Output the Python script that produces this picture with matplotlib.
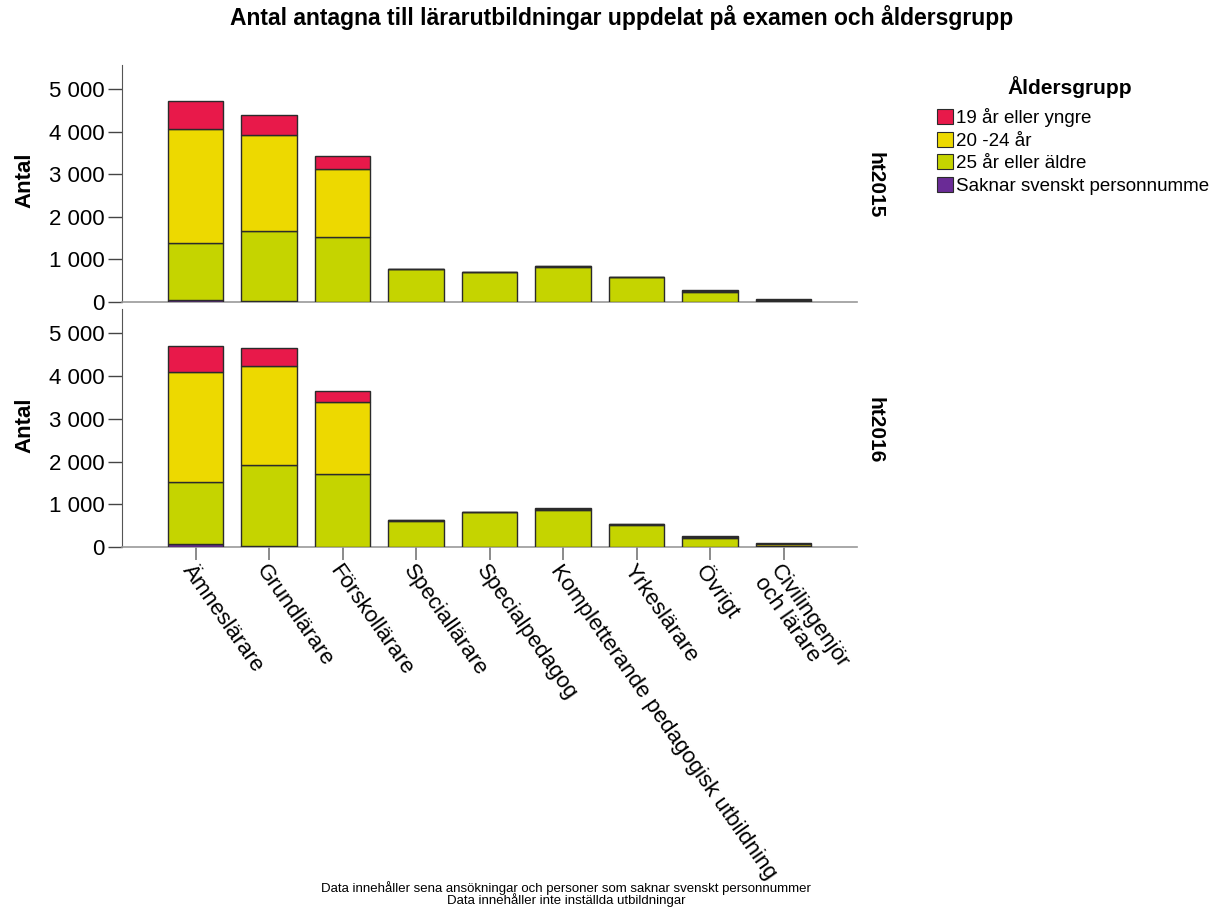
import matplotlib
matplotlib.use("Agg")
import matplotlib.pyplot as plt
import numpy as np
from matplotlib.patches import Patch

plt.rcParams['font.family'] = ['Liberation Sans', 'DejaVu Sans']

categories = ['Ämneslärare', 'Grundlärare', 'Förskollärare', 'Speciallärare',
              'Specialpedagog', 'Kompletterande pedagogisk utbildning',
              'Yrkeslärare', 'Övrigt', 'Civilingenjör\noch lärare']
groups = ['19 år eller yngre', '20 -24 år', '25 år eller äldre',
          'Saknar svenskt personnumme']
colors = ['#E8194A', '#EDD900', '#C5D400', '#6A2B96']
terms = ['ht2015', 'ht2016']

# values per term, one list per age group
saknar = {
    'ht2015': [50, 30, 10, 0, 0, 5, 0, 5, 0],
    'ht2016': [60, 30, 10, 0, 0, 5, 0, 5, 0],
}
age25 = {
    'ht2015': [1335, 1637, 1516, 772, 698, 820, 590, 225, 25],
    'ht2016': [1459, 1886, 1688, 617, 820, 860, 525, 200, 30],
}
age20_24 = {
    'ht2015': [2692, 2260, 1604, 5, 6, 20, 4, 35, 30],
    'ht2016': [2570, 2313, 1697, 5, 7, 30, 5, 38, 35],
}
age19 = {
    'ht2015': [641, 479, 313, 0, 0, 5, 0, 10, 15],
    'ht2016': [624, 421, 257, 0, 0, 9, 0, 7, 20],
}

W, H = 1221, 917
fig = plt.figure(figsize=(W / 100, H / 100), dpi=100)

left = 122 / W
width = 735 / W
panels = [(65, 302), (309, 547)]
x = np.arange(len(categories))
ymax = 5570

axes = []
for i, term in enumerate(terms):
    top, bot = panels[i]
    ax = fig.add_axes([left, 1 - bot / H, width, (bot - top) / H])
    axes.append(ax)

    bottom = np.zeros(len(categories))
    # stack order: saknar, 25+, 20-24, 19-
    for vals, col in [(saknar[term], colors[3]), (age25[term], colors[2]),
                      (age20_24[term], colors[1]), (age19[term], colors[0])]:
        vals = np.array(vals, dtype=float)
        ax.bar(x, vals, width=0.75, bottom=bottom, color=col,
               edgecolor='#2b2b2b', linewidth=1.0, zorder=3)
        bottom += vals

    ax.set_xlim(-1, 9)
    ax.set_ylim(0, ymax)
    ax.set_yticks([0, 1000, 2000, 3000, 4000, 5000])
    ax.set_yticklabels(['0', '1 000', '2 000', '3 000', '4 000', '5 000'],
                       fontsize=16)
    ax.tick_params(axis='y', length=10, width=1, color='#444444', pad=2.5)
    for s in ['top', 'right']:
        ax.spines[s].set_visible(False)
    ax.spines['left'].set_color('#555555')
    ax.spines['bottom'].set_color('#999999')
    ax.spines['bottom'].set_linewidth(1.2)

    fig.text(25 / W, 1 - ((top + bot) / 2 - 3) / H, 'Antal', rotation=90,
             ha='center', va='center', fontsize=16, fontweight='bold')
    fig.text(875 / W, 1 - ((top + bot) / 2 + 2) / H, term, rotation=-90,
             ha='center', va='center', fontsize=15, fontweight='bold')

axes[0].set_xticks([])
axes[1].set_xticks(x)
axes[1].set_xticklabels(categories, rotation=-55, ha='left', va='top',
                        rotation_mode='anchor', fontsize=16, linespacing=0.95)
axes[1].tick_params(axis='x', length=9, width=1.2, color='#777777', pad=1)

fig.text(622 / W, 1 - 18 / H,
         'Antal antagna till lärarutbildningar uppdelat på examen och åldersgrupp',
         ha='center', va='center', fontsize=16.5, fontweight='bold')

# legend: title drawn separately so its spacing can match
fig.text(1070 / W, 1 - 87 / H, 'Åldersgrupp', ha='center', va='center',
         fontsize=15, fontweight='bold')
handles = [Patch(facecolor=c, edgecolor='#2b2b2b', linewidth=0.8) for c in colors]
leg = fig.legend(handles, groups, loc='upper left',
                 bbox_to_anchor=(937 / W, 1 - 108 / H), frameon=False,
                 fontsize=13.5, handlelength=0.85, handleheight=0.85,
                 handletextpad=0.15, labelspacing=0.25, borderpad=0,
                 borderaxespad=0)

fig.text(566 / W, 1 - 888 / H,
         'Data innehåller sena ansökningar och personer som saknar svenskt personnummer',
         ha='center', va='center', fontsize=9.5,
         family=['Liberation Sans Narrow', 'Liberation Sans'])
fig.text(566 / W, 1 - 900 / H, 'Data innehåller inte inställda utbildningar',
         ha='center', va='center', fontsize=9.5,
         family=['Liberation Sans Narrow', 'Liberation Sans'])

fig.savefig('out.png', dpi=100)
